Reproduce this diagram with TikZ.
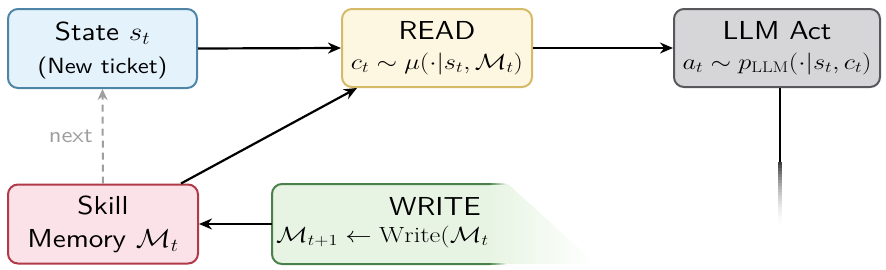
\RequirePackage{fix-cm}
\documentclass[tikz,border=0pt]{standalone}
\usepackage{fontspec}
\setsansfont{lmsans10-regular.otf}[FakeStretch=1.12]
\usetikzlibrary{arrows.meta,fadings,calc}
\definecolor{statefill}{RGB}{228,242,252}
\definecolor{stateline}{RGB}{78,132,166}
\definecolor{readfill}{RGB}{253,246,224}
\definecolor{readline}{RGB}{214,186,104}
\definecolor{llmfill}{RGB}{214,214,217}
\definecolor{llmline}{RGB}{88,88,92}
\definecolor{skillfill}{RGB}{251,226,232}
\definecolor{skillline}{RGB}{176,58,72}
\definecolor{writefill}{RGB}{231,244,227}
\definecolor{writeline}{RGB}{74,128,74}
\definecolor{nextgray}{RGB}{158,158,158}
\tikzfading[name=fadeoutright, left color=transparent!0, right color=transparent!100]
\newcommand\SubLn{\fontsize{22}{33}\selectfont}
\newcommand\WideMath[1]{\scalebox{1.2}[1]{$#1$}}
\begin{document}
\begin{tikzpicture}[x=1pt,y=-1pt,
  box/.style={draw, rounded corners=10pt, line width=2pt, minimum height=79pt,
    align=center, inner sep=0pt, font=\sffamily\fontsize{26}{33}\selectfont},
  arr/.style={-{Stealth[length=13pt,width=11pt]}, line width=2.2pt},
  dasharr/.style={-{Stealth[length=11pt,width=10pt]}, line width=2pt, nextgray,
    dash pattern=on 7pt off 5pt},
  lbl/.style={font=\sffamily\fontsize{26}{33}\selectfont, inner sep=0pt}]
\useasboundingbox (0,0) rectangle (886,269);

\node[box, draw=stateline, fill=statefill, minimum width=189pt] (state) at (102.5,48.5)
  {\rule{0pt}{22pt}State \scalebox{1.12}[1]{$s_t$}\\{\SubLn (New ticket)}};
\node[box, draw=readline, fill=readfill, minimum width=190pt, minimum height=78pt] (read) at (437,48)
  {READ\\[-3pt]{\SubLn \WideMath{c_t \sim \mu(\cdot|s_t,\mathcal{M}_t)}}};
\node[box, draw=llmline, fill=llmfill, minimum width=206pt, minimum height=78pt] (llm) at (777,48)
  {LLM Act\\[-3pt]{\SubLn \WideMath{a_t \sim p_{\mathrm{LLM}}(\cdot|s_t,c_t)}}};
\node[box, draw=skillline, fill=skillfill, minimum width=190pt] (skill) at (103,224)
  {Skill\\Memory \scalebox{1.12}[1]{$\mathcal{M}_t$}};

% WRITE box (only its left part is visible)
\node[minimum width=326pt, minimum height=80pt, inner sep=0pt] (write) at (435,224) {};
\fill[writefill] (490,184) -- (282,184) arc[start angle=90,end angle=180,radius=10pt]
  -- (272,254) arc[start angle=180,end angle=270,radius=10pt] -- (490,264) -- cycle;
\fill[writefill, path fading=fadeoutright] (489,184) -- (508,184) -- (596,264) -- (489,264) -- cycle;
\draw[writeline, line width=2pt] (490,184) -- (282,184) arc[start angle=90,end angle=180,radius=10pt]
  -- (272,254) arc[start angle=180,end angle=270,radius=10pt] -- (490,264);
\fill[writeline, path fading=fadeoutright] (489,183) rectangle (506,185);
\fill[writeline, path fading=fadeoutright] (489,263) rectangle (506,265);
\node[lbl, anchor=base] (wtitle) at (435,215) {WRITE};
\node[lbl, anchor=base west, font=\SubLn] (wmath) at (276,242)
  {\WideMath{\mathcal{M}_{t+1} \leftarrow \mathrm{Write}(\mathcal{M}_t}};

% connectors
\draw[arr] (state.east) -- (read.west);
\draw[arr] (read.east) -- (llm.west);
\draw[arr] (write.west) -- (skill.east);
\draw[arr] ([xshift=-18pt]skill.north east) -- ([xshift=16pt]read.south west);
\draw[dasharr] (skill.north) -- node[left=9pt, inner sep=0pt, text=nextgray,
  font=\sffamily\fontsize{22}{26}\selectfont] (nextlbl) {next} (state.south);

% LLM output line, fading out
\coordinate (llmtop) at ([xshift=3pt]llm.south);
\coordinate (llmfade) at ($(llmtop)+(0,74)$);
\draw[line width=2.2pt] (llmtop) -- (llmfade);
\foreach \i [evaluate=\i as \op using {0.75*(1-\i/22)^2}] in {0,...,21}
  \draw[line width=4pt, black, opacity=\op] ($(llmfade)+(0,3*\i)$) -- ($(llmfade)+(0,3*\i+3)$);
\end{tikzpicture}
\end{document}
